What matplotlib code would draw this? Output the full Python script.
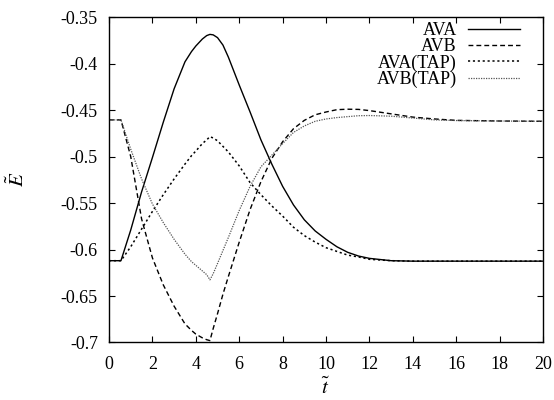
import matplotlib
matplotlib.use("Agg")
import matplotlib.pyplot as plt

plt.rcParams['font.family'] = ['Liberation Serif', 'DejaVu Serif']
plt.rcParams['mathtext.fontset'] = 'stix'
plt.rcParams['axes.unicode_minus'] = False
plt.rcParams['font.size'] = 13

# time grid
t = [0, 0.55, 1.0, 1.5, 2.0, 2.5, 3.0, 3.5, 3.8, 4.0, 4.3, 4.5, 4.65, 4.8,
     5.0, 5.25, 5.5, 6.0, 6.5, 7.0, 7.5, 8.0, 8.5, 9.0, 9.5, 10.0, 10.5,
     11.0, 11.5, 12.0, 13.0, 14.0, 15.0, 16.0, 18.0, 20.0]

ava = [-0.612, -0.612, -0.579, -0.538, -0.501, -0.463, -0.427, -0.398, -0.387,
       -0.381, -0.3735, -0.3698, -0.3685, -0.369, -0.372, -0.380, -0.393,
       -0.423, -0.452, -0.482, -0.508, -0.532, -0.552, -0.568, -0.580, -0.589,
       -0.597, -0.603, -0.607, -0.6095, -0.612, -0.6125, -0.6125, -0.6125,
       -0.6125, -0.6125]

avb = [-0.4605, -0.4605, -0.500, -0.567, -0.609, -0.638, -0.661, -0.680, -0.687,
       -0.691, -0.695, -0.697, -0.698, -0.685, -0.669, -0.648, -0.629, -0.592,
       -0.557, -0.527, -0.502, -0.484, -0.470, -0.461, -0.455, -0.452, -0.4495,
       -0.449, -0.4492, -0.4505, -0.454, -0.4575, -0.4595, -0.461, -0.4617,
       -0.462]

ava_tap = [-0.612, -0.612, -0.597, -0.578, -0.559, -0.541, -0.524, -0.508,
           -0.499, -0.494, -0.486, -0.482, -0.4785, -0.480, -0.483, -0.489,
           -0.495, -0.510, -0.528, -0.541, -0.553, -0.564, -0.576, -0.585,
           -0.592, -0.598, -0.602, -0.606, -0.608, -0.6105, -0.612, -0.6125,
           -0.6125, -0.6125, -0.6125, -0.6125]

avb_tap = [-0.4605, -0.4605, -0.492, -0.524, -0.551, -0.571, -0.589, -0.605,
           -0.613, -0.617, -0.623, -0.627, -0.6326, -0.626, -0.615, -0.601,
           -0.587, -0.558, -0.532, -0.511, -0.4985, -0.486, -0.474, -0.467,
           -0.462, -0.4595, -0.458, -0.457, -0.456, -0.4558, -0.4565, -0.4585,
           -0.4605, -0.4612, -0.4617, -0.462]

xticks = [0, 2, 4, 6, 8, 10, 12, 14, 16, 18, 20]
yticks = [-0.7, -0.65, -0.6, -0.55, -0.5, -0.45, -0.4, -0.35]
ytick_labels = ['-0.7', '-0.65', '-0.6', '-0.55', '-0.5', '-0.45', '-0.4', '-0.35']

fig = plt.figure(figsize=(5.54, 4.0), dpi=100)
ax = fig.add_axes([0.1968, 0.1438, 0.7834, 0.8132])

ax.plot(t, ava, color='black', lw=1.0, label='AVA')
ax.plot(t, avb, color='black', lw=1.0, ls=(0, (3.5, 2.2)), label='AVB')
ax.plot(t, ava_tap, color='black', lw=1.1, ls=(0, (1.4, 1.8)), label='AVA(TAP)')
ax.plot(t, avb_tap, color='#555555', lw=0.9, ls=(0, (1.0, 1.0)), label='AVB(TAP)')

ax.set_xlim(0, 20)
ax.set_ylim(-0.7, -0.35)
ax.set_xticks(xticks)
ax.set_xticklabels([str(v) for v in xticks])
ax.set_yticks(yticks)
ax.set_yticklabels(ytick_labels)
ax.tick_params(direction='in', length=4, width=0.8, top=True, right=True)
ax.tick_params(axis='x', pad=10)
ax.tick_params(axis='y', pad=8)
for s in ax.spines.values():
    s.set_linewidth(1.0)

ax.set_xlabel(r'$\tilde{t}$', fontsize=15, labelpad=3)
ax.set_ylabel(r'$\tilde{E}$', fontsize=15, labelpad=23)

ax.legend(loc='upper right', bbox_to_anchor=(0.947, 0.985), frameon=False,
          markerfirst=False, borderpad=0, borderaxespad=0, labelspacing=-0.05,
          handlelength=2.9, handletextpad=0.6, fontsize=13)

fig.savefig('out.png', dpi=100)
